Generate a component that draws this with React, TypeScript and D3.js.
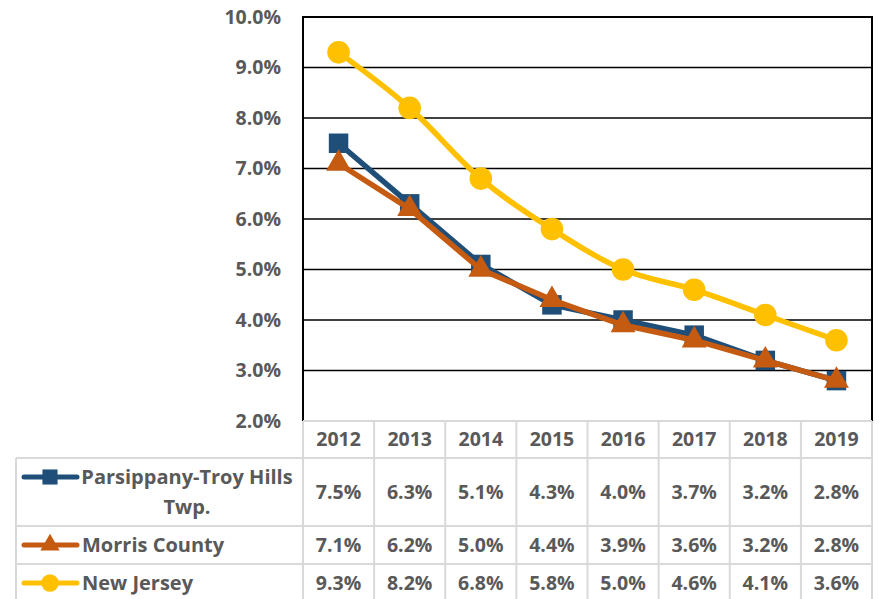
import React, { useEffect, useRef } from 'react';
import * as d3 from 'd3';

const years = ['2012', '2013', '2014', '2015', '2016', '2017', '2018', '2019'];
const parsippany = [7.5, 6.3, 5.1, 4.3, 4.0, 3.7, 3.2, 2.8];
const morris = [7.1, 6.2, 5.0, 4.4, 3.9, 3.6, 3.2, 2.8];
const newJersey = [9.3, 8.2, 6.8, 5.8, 5.0, 4.6, 4.1, 3.6];
const yTicks = [2, 3, 4, 5, 6, 7, 8, 9, 10];

const series = [
  { name: ['Parsippany-Troy Hills', 'Twp.'], values: parsippany, color: '#1F4E79', marker: 'square', smooth: false },
  { name: ['Morris County'], values: morris, color: '#C55A11', marker: 'triangle', smooth: false },
  { name: ['New Jersey'], values: newJersey, color: '#FFC000', marker: 'circle', smooth: true },
];

const App = () => {
  const svgRef = useRef<SVGSVGElement>(null);

  useEffect(() => {
    const width = 879;
    const height = 599;
    const plotLeft = 303;
    const plotRight = 872;
    const plotTop = 17;
    const plotBottom = 421;
    const tableLeft = 16;
    const rowBounds = [421, 458, 526, 564, 602];
    const font = '"Open Sans", sans-serif';
    const fontSize = 19.5;
    const labelSize = 20;
    const textColor = '#595959';
    const gridColor = '#D9D9D9';

    const svg = d3.select(svgRef.current)
      .attr('width', width)
      .attr('height', height)
      .style('position', 'absolute')
      .style('left', 0)
      .style('top', 0);
    svg.selectAll('*').remove();

    const x = d3.scaleBand().domain(years).range([plotLeft, plotRight]);
    const y = d3.scaleLinear().domain([2, 10]).range([plotBottom, plotTop]);

    // gridlines
    svg.append('g')
      .selectAll('line')
      .data(yTicks.filter(d => d > 2))
      .join('line')
      .attr('x1', plotLeft).attr('x2', plotRight)
      .attr('y1', d => y(d)).attr('y2', d => y(d))
      .attr('stroke', '#000').attr('stroke-width', 1.5);

    // y labels
    svg.append('g')
      .selectAll('text')
      .data(yTicks)
      .join('text')
      .attr('x', 281)
      .attr('y', d => y(d))
      .attr('dy', '0.35em')
      .attr('text-anchor', 'end')
      .attr('font-family', font)
      .attr('font-weight', 'bold')
      .attr('font-size', fontSize)
      .attr('fill', textColor)
      .text(d => d.toFixed(1) + '%');

    // plot frame
    svg.append('path')
      .attr('d', `M${plotLeft},${plotBottom}V${plotTop}H${plotRight}V${plotBottom}`)
      .attr('fill', 'none').attr('stroke', '#000').attr('stroke-width', 2);

    // table grid
    const tg = svg.append('g').attr('stroke', gridColor).attr('stroke-width', 2);
    rowBounds.forEach((yy, i) => {
      tg.append('line')
        .attr('x1', i === 0 ? plotLeft : tableLeft).attr('x2', plotRight)
        .attr('y1', yy).attr('y2', yy);
    });
    const colEdges = years.map(d => x(d) as number).concat([plotRight]);
    colEdges.forEach(cx => {
      tg.append('line').attr('x1', cx).attr('x2', cx).attr('y1', rowBounds[0]).attr('y2', height);
    });
    tg.append('line').attr('x1', tableLeft).attr('x2', tableLeft).attr('y1', rowBounds[1]).attr('y2', height);

    // header row
    svg.append('g')
      .selectAll('text')
      .data(years)
      .join('text')
      .attr('x', d => (x(d) as number) + x.bandwidth() / 2)
      .attr('y', (rowBounds[0] + rowBounds[1]) / 2)
      .attr('dy', '0.35em')
      .attr('text-anchor', 'middle')
      .attr('font-family', font).attr('font-weight', 'bold').attr('font-size', fontSize)
      .attr('fill', textColor)
      .text(d => d);

    const markerSym = (m: string) =>
      m === 'square' ? d3.symbolSquare : m === 'triangle' ? d3.symbolTriangle : d3.symbolCircle;
    const markerSize = (m: string) => (m === 'square' ? 380 : m === 'triangle' ? 270 : 400);

    series.forEach((s, si) => {
      const rowTop = rowBounds[si + 1];
      const rowBot = rowBounds[si + 2];
      const rowMid = (rowTop + rowBot) / 2;

      // values in table
      svg.append('g')
        .selectAll('text')
        .data(s.values)
        .join('text')
        .attr('x', (d, i) => (x(years[i]) as number) + x.bandwidth() / 2)
        .attr('y', rowMid)
        .attr('dy', '0.35em')
        .attr('text-anchor', 'middle')
        .attr('font-family', font).attr('font-weight', 'bold').attr('font-size', fontSize)
        .attr('fill', textColor)
        .text(d => d.toFixed(1) + '%');

      // legend key
      const key = svg.append('g');
      const keyY = s.name.length > 1 ? 477 : rowMid;
      key.append('line')
        .attr('x1', 24).attr('x2', 77).attr('y1', keyY).attr('y2', keyY)
        .attr('stroke', s.color).attr('stroke-width', 5).attr('stroke-linecap', 'round');
      key.append('path')
        .attr('transform', `translate(50,${keyY})`)
        .attr('d', d3.symbol(markerSym(s.marker), markerSize(s.marker) * 0.6)())
        .attr('fill', s.color);

      const label = svg.append('text')
        .attr('font-family', font).attr('font-weight', 'bold').attr('font-size', labelSize)
        .attr('fill', textColor);
      if (s.name.length > 1) {
        label.attr('text-anchor', 'middle');
        s.name.forEach((n, i) => {
          label.append('tspan').attr('x', 187).attr('y', keyY + i * 30).attr('dy', '0.35em').text(n);
        });
      } else {
        label.attr('x', 82).attr('y', keyY).attr('dy', '0.35em').text(s.name[0]);
      }
    });

    // lines + markers
    series.forEach(s => {
      const line = d3.line<number>()
        .x((d, i) => (x(years[i]) as number) + x.bandwidth() / 2)
        .y(d => y(d))
        .curve(s.smooth ? d3.curveMonotoneX : d3.curveLinear);
      const g = svg.append('g');
      g.append('path')
        .attr('d', line(s.values))
        .attr('fill', 'none')
        .attr('stroke', s.color)
        .attr('stroke-width', 5.5)
        .attr('stroke-linejoin', 'round');
      g.selectAll('path.m')
        .data(s.values)
        .join('path')
        .attr('class', 'm')
        .attr('transform', (d, i) => `translate(${(x(years[i]) as number) + x.bandwidth() / 2},${y(d)})`)
        .attr('d', d3.symbol(markerSym(s.marker), markerSize(s.marker))())
        .attr('fill', s.color);
    });
  }, []);

  return <svg ref={svgRef} />;
};

export default App;
